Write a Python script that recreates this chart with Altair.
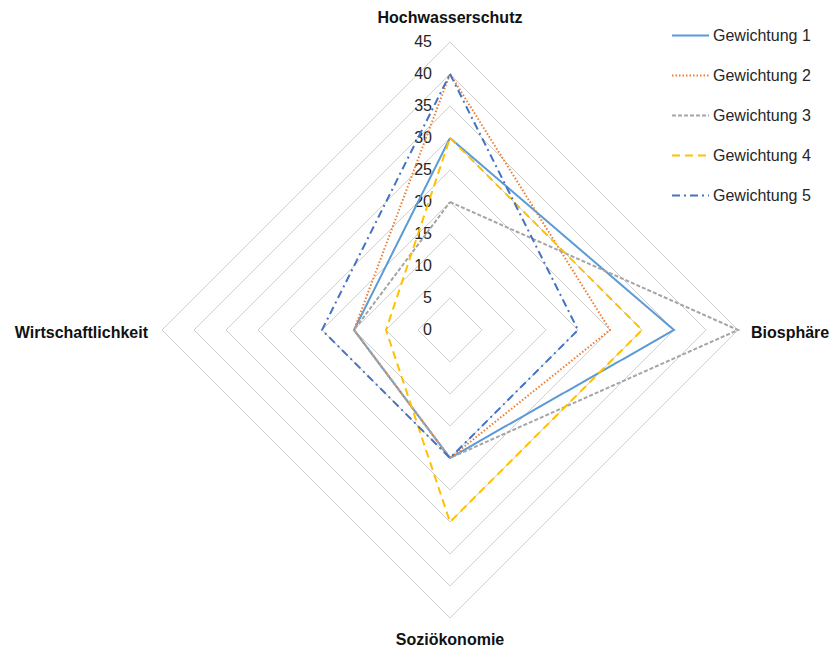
import altair as alt
import pandas as pd

# ---- data ----
axes_names = ["Hochwasserschutz", "Biosphäre", "Soziökonomie", "Wirtschaftlichkeit"]
series_names = ["Gewichtung 1", "Gewichtung 2", "Gewichtung 3", "Gewichtung 4", "Gewichtung 5"]
g1 = [30, 35, 20, 15]
g2 = [40, 25, 20, 15]
g3 = [20, 45, 20, 15]
g4 = [30, 30, 30, 10]
g5 = [40, 20, 20, 20]
grid_levels = [5, 10, 15, 20, 25, 30, 35, 40, 45]
tick_labels = [0, 5, 10, 15, 20, 25, 30, 35, 40, 45]

colors = ["#5B9BD5", "#ED7D31", "#A5A5A5", "#FFC000", "#4472C4"]
dashes = [[1, 0], [1.5, 2], [4, 2], [8, 5], [8, 4, 2, 4]]

# ---- tables ----
rows = []
for name, vals in zip(series_names, [g1, g2, g3, g4, g5]):
    for k in range(5):
        i = k % 4
        rows.append({"series": name, "axis": axes_names[i], "idx": i, "ord": k, "value": vals[i]})
df = pd.DataFrame(rows)

grid_rows = []
for lv in grid_levels:
    for k in range(5):
        grid_rows.append({"level": lv, "idx": k % 4, "ord": k, "value": lv})
grid_df = pd.DataFrame(grid_rows)

tick_df = pd.DataFrame({"value": tick_labels, "idx": [0] * len(tick_labels)})
title_df = pd.DataFrame({"axis": axes_names, "idx": [0, 1, 2, 3], "value": [45] * 4})

R = 45
xs = alt.Scale(domain=[-R, R], nice=False, zero=False)
ys = alt.Scale(domain=[-R, R], nice=False, zero=False)

def polar(ch):
    return ch.transform_calculate(
        px="datum.value * sin(datum.idx * PI / 2)",
        py="datum.value * cos(datum.idx * PI / 2)",
    )

X = alt.X("px:Q", scale=xs, axis=None)
Y = alt.Y("py:Q", scale=ys, axis=None)

grid = polar(alt.Chart(grid_df)).mark_line(color="#D0D0D0", strokeWidth=1).encode(
    x=X, y=Y, detail="level:N", order="ord:Q"
)

ticks = polar(alt.Chart(tick_df)).mark_text(
    align="right", baseline="middle", dx=-18, fontSize=16, font="Liberation Sans", color="#262626"
).encode(x=X, y=Y, text="value:Q")

lines = polar(alt.Chart(df)).mark_line(strokeWidth=2).encode(
    x=X,
    y=Y,
    order="ord:Q",
    color=alt.Color("series:N", scale=alt.Scale(domain=series_names, range=colors), title=None,
                    legend=alt.Legend(orient="none", legendX=509, legendY=-26, symbolType="stroke",
                                      symbolSize=1369, symbolStrokeWidth=2, labelFontSize=16,
                                      labelFont="Liberation Sans", labelColor="#262626",
                                      rowPadding=12, labelOffset=3)),
    strokeDash=alt.StrokeDash("series:N", scale=alt.Scale(domain=series_names, range=dashes), title=None),
)

def title_layer(i, **kw):
    return polar(alt.Chart(title_df.iloc[[i]])).mark_text(
        fontSize=16, fontWeight="bold", font="Liberation Sans", color="#111111", **kw
    ).encode(x=X, y=Y, text="axis:N")

t_top = title_layer(0, align="center", baseline="middle", dy=-24)
t_right = title_layer(1, align="left", baseline="middle", dx=13, dy=3)
t_bottom = title_layer(2, align="center", baseline="middle", dy=22)
t_left = title_layer(3, align="right", baseline="middle", dx=-14, dy=3)

chart = alt.layer(grid, ticks, lines, t_top, t_right, t_bottom, t_left).properties(
    width=576, height=576,
    padding={"left": 162, "top": 42, "right": 95, "bottom": 30},
    autosize=alt.AutoSizeParams(type="none"),
    background="white",
).configure_view(strokeWidth=0, stroke=None)

chart.save("out.html", embed_options={"renderer": "svg", "actions": False})
